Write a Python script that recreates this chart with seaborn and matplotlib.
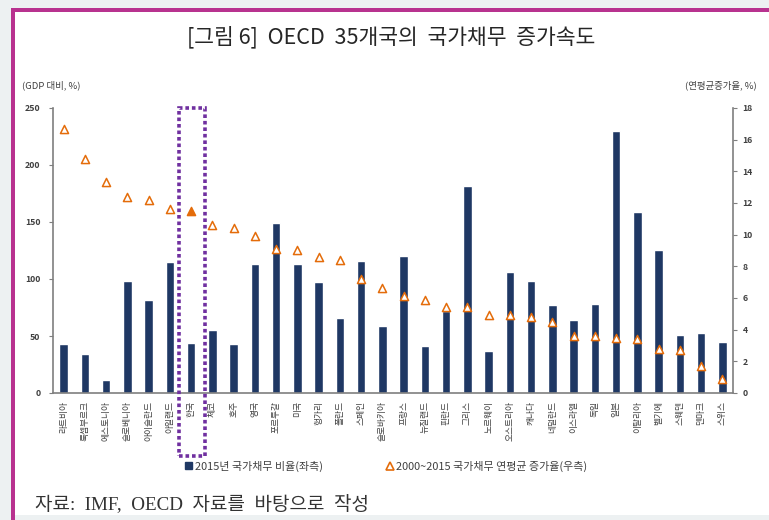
import matplotlib
matplotlib.use("Agg")
import matplotlib.pyplot as plt
import matplotlib.patches as mpatches
import matplotlib.transforms as mtransforms
from matplotlib.lines import Line2D
import seaborn as sns
import pandas as pd
import numpy as np

# OECD countries, ordered by average annual growth of government debt
countries = ["라트비아", "룩셈부르크", "에스토니아", "슬로베니아", "아이슬란드", "아일랜드",
             "한국", "체코", "호주", "영국", "포르투갈", "미국", "헝가리", "폴란드",
             "스페인", "슬로바키아", "프랑스", "뉴질랜드", "핀란드", "그리스", "노르웨이",
             "오스트리아", "캐나다", "네덜란드", "이스라엘", "독일", "일본", "이탈리아",
             "벨기에", "스웨덴", "덴마크", "스위스"]

# 2015 government debt, % of GDP (left axis)
debt_ratio_2015 = [43, 34, 11, 98, 82, 115, 44, 55, 43, 113, 149, 113, 97, 66,
                   116, 59, 120, 41, 72, 182, 37, 106, 98, 77, 64, 78, 230, 159,
                   125, 51, 53, 45]

# 2000-2015 average annual growth of government debt, % (right axis)
debt_growth_2000_2015 = [16.7, 14.8, 13.3, 12.4, 12.2, 11.6, 11.5, 10.6, 10.4, 9.9,
                         9.1, 9.0, 8.6, 8.4, 7.2, 6.6, 6.1, 5.9, 5.4, 5.4, 4.9, 4.9,
                         4.8, 4.5, 3.6, 3.6, 3.5, 3.4, 2.8, 2.7, 1.7, 0.9]

left_ticks = [0, 50, 100, 150, 200, 250]
right_ticks = [0, 2, 4, 6, 8, 10, 12, 14, 16, 18]
highlight = "한국"

title = "[그림 6]  OECD  35개국의  국가채무  증가속도"
left_unit = "(GDP 대비, %)"
right_unit = "(연평균증가율, %)"
bar_label = "2015년 국가채무 비율(좌측)"
marker_label = "2000~2015 국가채무 연평균 증가율(우측)"
source = "자료:  IMF,  OECD  자료를  바탕으로  작성"

sns.set_style("white")
plt.rcParams['font.family'] = ['Noto Sans CJK KR', 'DejaVu Sans']

NAVY = "#1F3864"
ORANGE = "#E46C0A"
GRAY = "#7F7F7F"
TEXT = "#404040"
PURPLE = "#7030A0"

W, H = 769, 520
fig = plt.figure(figsize=(W / 100, H / 100), dpi=100)
fig.patch.set_facecolor("#EDF1F2")


def px_rect(x0, y0, x1, y1, **kw):
    fig.patches.append(mpatches.Rectangle((x0 / W, 1 - y1 / H), (x1 - x0) / W, (y1 - y0) / H,
                                          transform=fig.transFigure, figure=fig, **kw))


# page panel with magenta frame, kept beneath the axes
px_rect(14, 11, W, 515, facecolor="white", edgecolor="none", zorder=-3)
px_rect(11, 8, 14.5, H, facecolor="#B8328F", edgecolor="none", zorder=-2)
px_rect(11, 8, W, 11.5, facecolor="#B8328F", edgecolor="none", zorder=-2)

df = pd.DataFrame({"country": countries,
                   "pos": np.arange(len(countries)),
                   "debt": debt_ratio_2015,
                   "growth": debt_growth_2000_2015})

ax = fig.add_axes([53 / W, 1 - 393 / H, 680 / W, 285 / H])
ax.set_facecolor("none")
sns.barplot(data=df, x="pos", y="debt", color=NAVY, saturation=1, width=0.4,
            native_scale=True, ax=ax)
ax.set_xlim(-0.5, len(countries) - 0.5)
ax.set_ylim(0, 250)
ax.set_yticks(left_ticks)
ax.set_xticks(df["pos"])
ax.set_xticklabels(countries, rotation=90, fontsize=6.3, color=TEXT, va="top", ha="center")
ax.set_xticks(np.arange(-0.5, len(countries)), minor=True)
ax.tick_params(axis="x", which="major", length=0, pad=6)
ax.tick_params(axis="x", which="minor", length=3, color=GRAY, width=0.8, direction="out")
ax.tick_params(axis="y", length=3, color=GRAY, width=0.8, direction="out",
               labelsize=6.3, labelcolor=TEXT, pad=6)
for lbl in ax.get_yticklabels():
    lbl.set_fontweight("bold")
ax.set_xlabel("")
ax.set_ylabel("")
for side in ["left", "bottom"]:
    ax.spines[side].set_color(GRAY)
    ax.spines[side].set_linewidth(1.2)
ax.spines["top"].set_visible(False)
ax.spines["right"].set_visible(False)

ax2 = ax.twinx()
others = df[df["country"] != highlight]
hl = df[df["country"] == highlight]
sns.scatterplot(data=others, x="pos", y="growth", marker="^", s=34, color="white",
                edgecolor=ORANGE, linewidth=1.1, ax=ax2, zorder=4, legend=False)
sns.scatterplot(data=hl, x="pos", y="growth", marker="^", s=34, color=ORANGE,
                edgecolor=ORANGE, linewidth=1.1, ax=ax2, zorder=4, legend=False)
ax2.set_xlim(-0.5, len(countries) - 0.5)
ax2.set_ylim(0, 18)
ax2.set_yticks(right_ticks)
ax2.tick_params(axis="y", length=3, color=GRAY, width=0.8, direction="out",
                labelsize=6.3, labelcolor=TEXT, pad=4)
for lbl in ax2.get_yticklabels():
    lbl.set_fontweight("bold")
ax2.set_xlabel("")
ax2.set_ylabel("")
ax2.spines["right"].set_color(GRAY)
ax2.spines["right"].set_linewidth(1.2)
for side in ["top", "left", "bottom"]:
    ax2.spines[side].set_visible(False)

# dotted box around Korea
k = int(hl["pos"].iloc[0])
trans = mtransforms.blended_transform_factory(ax2.transData, ax2.transAxes)
ax2.add_patch(mpatches.Rectangle((k - 0.57, -0.222), 1.22, 1.222, fill=False,
                                 edgecolor=PURPLE, linewidth=2.6, linestyle=(0, (1, 0.8)),
                                 transform=trans, clip_on=False, zorder=6))

# texts
fig.text(391 / W, 1 - 37 / H, title, fontsize=15.5, ha="center", va="center", color="#262626",
         fontweight="light")
fig.text(22 / W, 1 - 85 / H, left_unit, fontsize=6.8, ha="left", va="center", color=TEXT)
fig.text(757 / W, 1 - 85 / H, right_unit, fontsize=6.8, ha="right", va="center", color=TEXT)

handles = [mpatches.Patch(facecolor=NAVY, edgecolor=NAVY),
           Line2D([], [], marker="^", linestyle="none", markersize=6,
                  markerfacecolor="white", markeredgecolor=ORANGE, markeredgewidth=1.2)]
leg = fig.legend(handles, [bar_label, marker_label], ncol=2, loc="center",
                 bbox_to_anchor=(386 / W, 1 - 466 / H), frameon=False, fontsize=7.9,
                 handlelength=0.7, handleheight=0.7, handletextpad=0.2, columnspacing=5.8)
for t in leg.get_texts():
    t.set_color(TEXT)

fig.text(35 / W, 1 - 504 / H, source, fontsize=13.7, ha="left", va="center", color="#333333",
         family=["Liberation Serif", "Noto Sans CJK KR"])

fig.savefig("out.png", dpi=100, facecolor=fig.get_facecolor())
